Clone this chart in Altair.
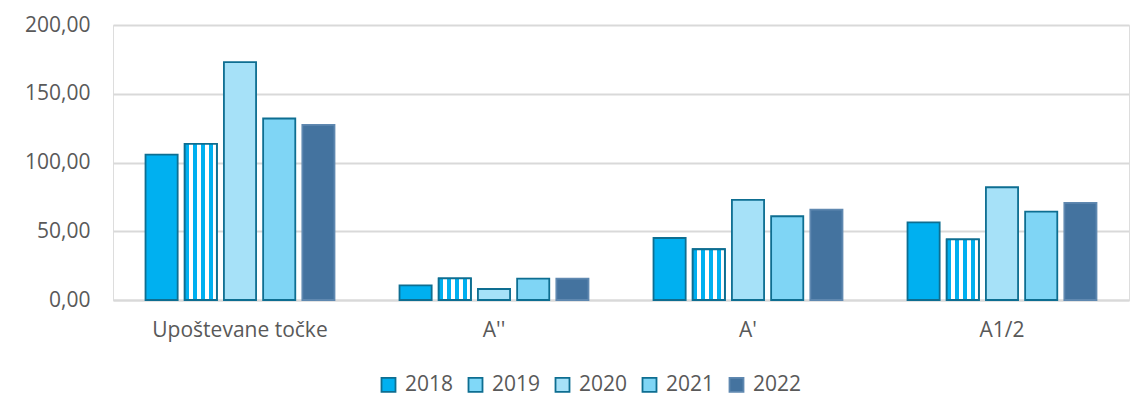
import altair as alt
import pandas as pd

cats = ["Upoštevane točke", "A''", "A'", "A1/2"]
years = ["2018", "2019", "2020", "2021", "2022"]
v2018 = [105.8, 10.6, 45.1, 56.5]
v2019 = [113.6, 15.7, 36.9, 44.1]
v2020 = [173.0, 8.0, 72.8, 82.0]
v2021 = [132.0, 15.5, 60.9, 64.3]
v2022 = [127.4, 15.5, 65.8, 70.6]

series = {"2018": v2018, "2019": v2019, "2020": v2020, "2021": v2021, "2022": v2022}
rows = []
for y, vals in series.items():
    for c, v in zip(cats, vals):
        rows.append({"cat": c, "year": y, "value": v})
df = pd.DataFrame(rows)

CYAN = "#00B0F0"
TEAL = "#0E6E91"
fills = [CYAN, "#80D8F8", "#A6E1F8", "#7FD5F5", "#44739F"]
strokes = [TEAL, TEAL, TEAL, TEAL, "#5F88B0"]

def stripes(n, c1, c2):
    stops = []
    step = 1.0 / (2 * n)
    for i in range(2 * n):
        col = c1 if i % 2 == 0 else c2
        stops.append({"offset": round(i * step, 4), "color": col})
        stops.append({"offset": round((i + 1) * step, 4), "color": col})
    return {"gradient": "linear", "x1": 0, "y1": 0, "x2": 1, "y2": 0, "stops": stops}

FONT = "Open Sans"
GREY = "#595959"

x_enc = alt.X("cat:N", sort=cats, title=None,
              scale=alt.Scale(paddingInner=0.256, paddingOuter=0.128),
              axis=alt.Axis(labelAngle=0, labelFontSize=21, labelColor=GREY, labelFont=FONT,
                            ticks=False, domainColor="#D9D9D9", domainWidth=2, labelPadding=19))
xo_enc = alt.XOffset("year:N", sort=years,
                     scale=alt.Scale(domain=years, paddingInner=0.18, paddingOuter=0))
y_enc = alt.Y("value:Q", title=None,
              scale=alt.Scale(domain=[0, 200], nice=False),
              axis=alt.Axis(values=[0, 50, 100, 150, 200], domain=False, ticks=False,
                            labelFontSize=21, labelColor=GREY, labelFont=FONT, labelPadding=23,
                            gridColor="#D9D9D9", gridWidth=2,
                            labelExpr="replace(format(datum.value, '.2f'), '.', ',')"))

leg = dict(title=None, orient="none", direction="horizontal",
           legendX=265, legendY=349, symbolType="square", symbolSize=196,
           symbolStrokeWidth=1.8, labelFontSize=21, labelColor=GREY,
           labelFont=FONT, columnPadding=10, labelOffset=6)

base = alt.Chart(df).mark_bar(strokeWidth=1.8).encode(
    x=x_enc, xOffset=xo_enc, y=y_enc,
    fill=alt.Fill("year:N", sort=years, scale=alt.Scale(domain=years, range=fills),
                  legend=alt.Legend(**leg)),
    stroke=alt.Stroke("year:N", sort=years, scale=alt.Scale(domain=years, range=strokes),
                      legend=alt.Legend(**leg)),
)

over2019 = alt.Chart(df).transform_filter(alt.datum.year == "2019").mark_bar(
    strokeWidth=1.8, stroke=TEAL).encode(
    x=x_enc, xOffset=xo_enc, y=y_enc,
    fill=alt.value(stripes(4, CYAN, "#FFFFFF")),
)

chart = alt.layer(base, over2019).properties(
    width=1016, height=275,
    padding={"left": 105, "top": 17, "right": 7, "bottom": 106},
    autosize=alt.AutoSizeParams(type="none"),
).configure_view(stroke=None).configure(font=FONT)

chart.save("out.html", embed_options={"renderer": "svg", "actions": False})
